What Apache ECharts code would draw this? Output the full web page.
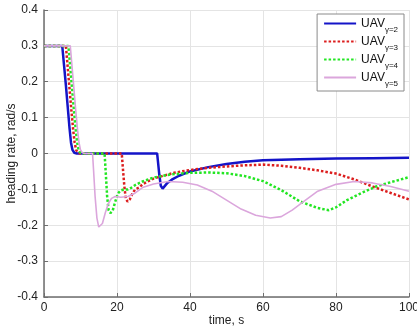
<!DOCTYPE html>
<html>
<head>
<meta charset="utf-8">
<script src="https://cdn.jsdelivr.net/npm/echarts@6/dist/echarts.min.js"></script>
<style>
  html, body { margin: 0; padding: 0; background: #fff; }
  #chart { width: 417px; height: 333px; }
</style>
</head>
<body>
<div id="chart"></div>
<script>
// Heading rate responses of UAVs with different gamma values: [time (s), rate (rad/s)]
const seriesLabels = ['γ=2', 'γ=3', 'γ=4', 'γ=5'];

const rateGamma2 = [
  [0, 0.3], [5, 0.3], [5.5, 0.245], [6, 0.19], [6.5, 0.13], [7, 0.07], [7.4, 0.03], [7.8, 0.01],
  [8.3, 0.002], [9, 0], [31, 0], [31.2, -0.02], [31.6, -0.06], [32, -0.09], [32.5, -0.098],
  [33, -0.094], [33.8, -0.082], [35, -0.073], [37, -0.062], [40, -0.05], [45, -0.038],
  [50, -0.029], [55, -0.023], [60, -0.019], [70, -0.016], [80, -0.014], [90, -0.013], [100, -0.012]
];

const rateGamma3 = [
  [0, 0.3], [6, 0.3], [6.5, 0.24], [7, 0.18], [7.5, 0.12], [8, 0.065], [8.4, 0.03], [8.8, 0.01],
  [9.3, 0.002], [10, 0], [21.3, 0], [21.6, -0.04], [22, -0.09], [22.4, -0.125], [22.9, -0.134],
  [23.5, -0.128], [24.3, -0.11], [25, -0.1], [26, -0.095], [27, -0.086], [28, -0.08], [30, -0.07],
  [33, -0.061], [36, -0.053], [40, -0.046], [45, -0.04], [50, -0.036], [55, -0.033], [60, -0.031],
  [65, -0.034], [70, -0.04], [75, -0.047], [80, -0.056], [85, -0.072], [90, -0.092], [95, -0.11],
  [100, -0.128]
];

const rateGamma4 = [
  [0, 0.3], [6.7, 0.3], [7.2, 0.24], [7.7, 0.18], [8.2, 0.12], [8.7, 0.065], [9.1, 0.03], [9.5, 0.01],
  [10, 0.002], [10.7, 0], [16.6, 0], [16.9, -0.05], [17.3, -0.12], [17.7, -0.158], [18.2, -0.166],
  [18.8, -0.16], [19.5, -0.135], [20.2, -0.112], [21, -0.103], [22, -0.1], [23, -0.1], [24, -0.095],
  [25, -0.088], [27, -0.078], [30, -0.067], [35, -0.058], [40, -0.054], [45, -0.053], [50, -0.055],
  [55, -0.063], [60, -0.077], [65, -0.102], [70, -0.133], [75, -0.152], [78, -0.158], [80, -0.15],
  [83, -0.13], [87, -0.11], [91, -0.092], [95, -0.08], [100, -0.066]
];

const rateGamma5 = [
  [0, 0.3], [7.2, 0.3], [7.7, 0.24], [8.2, 0.18], [8.7, 0.12], [9.2, 0.065], [9.6, 0.03], [10, 0.01],
  [10.5, 0.002], [11.2, 0], [13.3, 0], [13.6, -0.05], [14, -0.12], [14.5, -0.18], [15, -0.205],
  [15.4, -0.208], [16, -0.195], [16.8, -0.165], [17.6, -0.14], [18.5, -0.125], [19.5, -0.12],
  [21, -0.122], [23, -0.12], [25, -0.11], [27, -0.095], [30, -0.085], [34, -0.078], [38, -0.08],
  [42, -0.088], [46, -0.105], [50, -0.13], [54, -0.155], [58, -0.172], [62, -0.18], [65, -0.176],
  [68, -0.158], [71, -0.135], [75, -0.105], [80, -0.086], [85, -0.078], [90, -0.082], [95, -0.092],
  [100, -0.105]
];

const xTicks = { min: 0, max: 100, step: 20 };
const yTicks = { min: -0.4, max: 0.4, step: 0.1 };

const chart = echarts.init(document.getElementById('chart'), null, { renderer: 'canvas' });

const axisColor = '#6e6e6e';
const gridColor = '#e4e4e4';
const labelColor = '#222';
const font = 'Liberation Sans, Arial, sans-serif';

function makeSeries(label, data, color, width, type) {
  return {
    name: label,
    type: 'line',
    data: data,
    showSymbol: false,
    symbol: 'none',
    smooth: false,
    lineStyle: { color: color, width: width, type: type, cap: 'butt' },
    itemStyle: { color: color },
    emphasis: { disabled: true },
    animation: false
  };
}

chart.setOption({
  backgroundColor: '#fff',
  animation: false,
  grid: { left: 44, right: 8, top: 10, bottom: 36, containLabel: false, outerBoundsMode: 'none' },
  xAxis: {
    type: 'value',
    min: xTicks.min, max: xTicks.max, interval: xTicks.step,
    name: 'time, s',
    nameLocation: 'middle',
    nameGap: 18,
    nameMoveOverlap: false,
    nameTextStyle: { color: labelColor, fontSize: 12, fontFamily: font, verticalAlign: 'top' },
    axisLine: { show: true, onZero: false, lineStyle: { color: axisColor, width: 1.5 } },
    axisTick: { show: true, inside: true, length: 4, lineStyle: { color: axisColor } },
    axisLabel: { color: labelColor, fontSize: 12, fontFamily: font, margin: 5 },
    splitLine: { show: true, lineStyle: { color: gridColor, width: 1 } }
  },
  yAxis: {
    type: 'value',
    min: yTicks.min, max: yTicks.max, interval: yTicks.step,
    name: 'heading rate, rad/s',
    nameLocation: 'middle',
    nameGap: 26,
    nameMoveOverlap: false,
    nameRotate: 90,
    nameTextStyle: { color: labelColor, fontSize: 12, fontFamily: font },
    axisLine: { show: true, onZero: false, lineStyle: { color: axisColor, width: 1.5 } },
    axisTick: { show: true, inside: true, length: 4, lineStyle: { color: axisColor } },
    axisLabel: {
      color: labelColor, fontSize: 12, fontFamily: font, margin: 6,
      formatter: function (v) {
        const r = Math.round(v * 10) / 10;
        return r === 0 ? '0' : String(r);
      }
    },
    splitLine: { show: true, lineStyle: { color: gridColor, width: 1 } }
  },
  legend: {
    orient: 'vertical',
    right: 13,
    top: 14,
    backgroundColor: '#fff',
    borderColor: '#8a8a8a',
    borderWidth: 1,
    borderRadius: 0,
    padding: [4, 6, 3, 6],
    itemGap: 2,
    itemWidth: 32,
    itemHeight: 10,
    selectedMode: false,
    itemStyle: { opacity: 0, borderWidth: 0 },
    textStyle: {
      color: '#111',
      fontFamily: font,
      rich: {
        a: { fontSize: 12, fontFamily: font, color: '#111', verticalAlign: 'bottom', lineHeight: 17, padding: [0, 0, 2, 0] },
        b: { fontSize: 8, fontFamily: font, color: '#111', verticalAlign: 'bottom', lineHeight: 17, padding: [0, 0, -2, 0] }
      }
    },
    formatter: function (name) {
      return '{a|UAV}{b|' + name + '}';
    },
    data: seriesLabels
  },
  series: [
    makeSeries(seriesLabels[0], rateGamma2, '#1414c8', 2.5, 'solid'),
    makeSeries(seriesLabels[1], rateGamma3, '#dc1e1e', 2.5, [2.5, 2]),
    makeSeries(seriesLabels[2], rateGamma4, '#22e622', 2.5, [2.5, 2]),
    makeSeries(seriesLabels[3], rateGamma5, '#dba6dc', 1.6, 'solid')
  ]
});
</script>
</body>
</html>
